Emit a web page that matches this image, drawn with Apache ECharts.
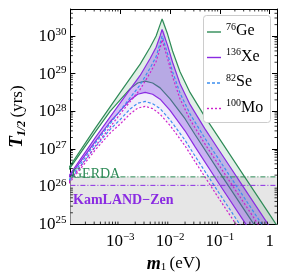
<!DOCTYPE html>
<html><head><meta charset="utf-8">
<script src="https://cdn.jsdelivr.net/npm/echarts@6/dist/echarts.min.js"></script>
<style>html,body{margin:0;padding:0;background:#fff}#c{width:281px;height:278px}</style>
</head><body><div id="c"></div>
<script>
// ---- data: log10(m1 / eV) and log10(T1/2 / yr) ----
const mUpperLog = [-4.03,-3.5,-3.0,-2.6,-2.4,-2.28,-2.2,-2.16,-2.12,-2.05,-1.95,-1.8,-1.6,-1.3,-1.0,-0.5,0.0,0.16];
const geUpperLog = [26.5,27.55,28.5,29.25,29.7,30.0,30.3,30.45,30.4,30.05,29.6,29.05,28.5,27.85,27.25,26.25,25.25,24.93];
const xeUpperLog = [26.28,27.3,28.22,28.95,29.4,29.7,30.0,30.17,30.12,29.75,29.3,28.73,28.18,27.53,26.93,25.93,24.93,24.61];
const seUpperLog = [26.17,27.15,28.02,28.7,29.15,29.45,29.8,30.0,29.95,29.53,29.05,28.48,27.93,27.28,26.68,25.68,24.68,24.36];
const moUpperLog = [26.12,27.07,27.93,28.58,29.02,29.32,29.68,29.9,29.85,29.4,28.92,28.33,27.78,27.13,26.53,25.53,24.53,24.21];
const mLowerLog = [-4.03,-3.5,-3.2,-3.0,-2.8,-2.65,-2.5,-2.35,-2.2,-2.0,-1.7,-1.5,-1.0,-0.5,-0.2];
const geLowerLog = [26.45,27.45,28.0,28.3,28.6,28.75,28.8,28.75,28.62,28.33,27.8,27.38,26.36,25.36,24.76];
const xeLowerLog = [26.24,27.2,27.72,28.01,28.3,28.45,28.5,28.45,28.32,28.02,27.48,27.06,26.04,25.04,24.44];
const seLowerLog = [26.13,27.05,27.52,27.78,28.06,28.21,28.26,28.2,28.07,27.77,27.23,26.81,25.79,24.79,24.19];
const moLowerLog = [26.08,26.97,27.42,27.66,27.93,28.08,28.13,28.07,27.92,27.62,27.08,26.66,25.64,24.64,24.04];
const gerdaLimit = 1.8e26;
const kamlandLimit = 1.07e26;
const xTickLabels = [1e-3,1e-2,1e-1,1];
const xMajorTicks = [1e-4,1e-3,1e-2,1e-1,1];
const yTickLabels = [1e25,1e26,1e27,1e28,1e29,1e30];
const legendNames = ['Ge','Xe','Se','Mo'];
const legendMass = ['76','136','82','100'];

const X_MIN = 1e-4, X_MAX = 1.4, Y_MIN = 1e25, Y_MAX = 5.2e30;
const pair = (ms, ts) => ms.map((m,i)=>[Math.pow(10,m), Math.pow(10,ts[i])]);

const C = {Ge:'#2e8b57', Xe:'#8a2be2', Se:'#3d8ef0', Mo:'#cc22cc'};
const DASH = {Ge:'solid', Xe:'solid', Se:[3,2], Mo:[2,2]};
const SERIF = 'Liberation Serif';

function band(name, up, low, fill, z){
  const poly = up.concat(low.slice().reverse());
  return {
    type:'custom', name:name+'_band', coordinateSystem:'cartesian2d', z:z, silent:true,
    data:[0],
    renderItem:(params, api)=>{
      const cs = params.coordSys;
      return {type:'polygon', shape:{points: poly.map(p=>api.coord(p))},
        style:{fill:fill},
        clipPath:{type:'rect', shape:{x:cs.x,y:cs.y,width:cs.width,height:cs.height}}};
    }
  };
}
function line(name, data, key, z){
  return {type:'line', name:name, data:data, showSymbol:false, symbol:'none', z:z, silent:true,
    lineStyle:{color:C[key], width:1.2, type: DASH[key]}, itemStyle:{color:C[key]},
    clip:true, animation:false};
}
const geU = pair(mUpperLog, geUpperLog), geL = pair(mLowerLog, geLowerLog);
const xeU = pair(mUpperLog, xeUpperLog), xeL = pair(mLowerLog, xeLowerLog);
const seU = pair(mUpperLog, seUpperLog), seL = pair(mLowerLog, seLowerLog);
const moU = pair(mUpperLog, moUpperLog), moL = pair(mLowerLog, moLowerLog);

// minor tick values
const xMinor = [], yMinor = [];
for (let e=-4;e<=0;e++) for (let k=2;k<=9;k++){ const v=k*Math.pow(10,e); if(v<X_MAX) xMinor.push(v); }
for (let e=25;e<=30;e++) for (let k=2;k<=9;k++){ const v=k*Math.pow(10,e); if(v<Y_MAX) yMinor.push(v); }

function minorTicks(vals, dir){
  return {type:'custom', coordinateSystem:'cartesian2d', z:20, silent:true, data:vals.map(v=>[v]),
    renderItem:(params, api)=>{
      const cs = params.coordSys; const v = api.value(0); const L=2.5;
      if (dir==='x'){
        const x = api.coord([v, Y_MIN])[0];
        return {type:'group', children:[
          {type:'line', shape:{x1:x,y1:cs.y+cs.height,x2:x,y2:cs.y+cs.height-L}, style:{stroke:'#000',lineWidth:0.8}},
          {type:'line', shape:{x1:x,y1:cs.y,x2:x,y2:cs.y+L}, style:{stroke:'#000',lineWidth:0.8}}]};
      } else {
        const y = api.coord([X_MIN, v])[1];
        return {type:'group', children:[
          {type:'line', shape:{x1:cs.x,y1:y,x2:cs.x+L,y2:y}, style:{stroke:'#000',lineWidth:0.8}},
          {type:'line', shape:{x1:cs.x+cs.width,y1:y,x2:cs.x+cs.width-L,y2:y}, style:{stroke:'#000',lineWidth:0.8}}]};
      }
    }};
}
function powLabel(v){
  const e = Math.round(Math.log10(v));
  if (e===0) return '{b|1}';
  return '{b|10}{s|' + (e<0 ? '\u2212'+(-e) : e) + '}';
}
const labRich = {b:{fontFamily:SERIF,fontSize:17,color:'#000',lineHeight:18,verticalAlign:'bottom'},
                 s:{fontFamily:SERIF,fontSize:11,color:'#000',lineHeight:11,verticalAlign:'top'}};

// manual legend (line samples + rich labels)
const legendGraphic = [{type:'rect', left:203, top:15, z:40, shape:{width:67,height:107,r:3},
  style:{fill:'#fff', stroke:'#cccccc', lineWidth:1}}];
legendNames.forEach((n,i)=>{
  const yc = 32 + i*25.5;
  legendGraphic.push({type:'line', z:41, shape:{x1:207,y1:yc,x2:221,y2:yc},
    style:{stroke:C[n], lineWidth:1.4, lineDash: DASH[n]==='solid'?null:DASH[n]}});
  legendGraphic.push({type:'text', z:41, x:226, y:yc-10, style:{
    text:'{s|'+legendMass[i]+'}{e|'+n+'}',
    rich:{s:{fontFamily:SERIF,fontSize:10,fill:'#000',verticalAlign:'top',lineHeight:10},
          e:{fontFamily:SERIF,fontSize:16,fill:'#000',lineHeight:17,verticalAlign:'bottom'}}}});
});

const option = {
  animation:false,
  backgroundColor:'#fff',
  grid:{left:57,right:4,top:9,bottom:50},
  xAxis:[
    {type:'log', min:X_MIN, max:X_MAX, position:'bottom',
     axisLine:{lineStyle:{color:'#000',width:1}}, splitLine:{show:false},
     axisTick:{inside:true,length:5,lineStyle:{color:'#000'},customValues:xMajorTicks},
     axisLabel:{customValues:xTickLabels, formatter:powLabel, rich:labRich, margin:8},
     name:'{i|m}{sub|1} {n|(eV)}', nameLocation:'middle', nameGap:28,
     nameTextStyle:{rich:{i:{fontFamily:SERIF,fontSize:18,fontStyle:'italic',fontWeight:'bold'},
       sub:{fontFamily:SERIF,fontSize:11,verticalAlign:'bottom',padding:[7,0,0,0]},
       n:{fontFamily:SERIF,fontSize:17}}}},
    {type:'log', min:X_MIN, max:X_MAX, position:'top',
     axisLine:{lineStyle:{color:'#000',width:1}}, splitLine:{show:false},
     axisTick:{inside:true,length:5,lineStyle:{color:'#000'},customValues:xMajorTicks},
     axisLabel:{show:false}}
  ],
  yAxis:[
    {type:'log', min:Y_MIN, max:Y_MAX, position:'left',
     axisLine:{lineStyle:{color:'#000',width:1}}, splitLine:{show:false},
     axisTick:{inside:true,length:5,lineStyle:{color:'#000'},customValues:yTickLabels},
     axisLabel:{customValues:yTickLabels, formatter:powLabel, rich:labRich, margin:4},
     name:'{i|T}{sub|1/2} {n|(yrs)}', nameLocation:'middle', nameGap:40, nameRotate:90,
     nameTextStyle:{rich:{i:{fontFamily:SERIF,fontSize:19,fontStyle:'italic',fontWeight:'bold'},
       sub:{fontFamily:SERIF,fontSize:12,fontStyle:'italic',fontWeight:'bold',verticalAlign:'bottom',padding:[8,0,0,0]},
       n:{fontFamily:SERIF,fontSize:17}}}},
    {type:'log', min:Y_MIN, max:Y_MAX, position:'right',
     axisLine:{lineStyle:{color:'#000',width:1}}, splitLine:{show:false},
     axisTick:{inside:true,length:5,lineStyle:{color:'#000'},customValues:yTickLabels},
     axisLabel:{show:false}}
  ],
  series:[
    {type:'line', name:'excl', data:[[X_MIN,Y_MIN],[X_MAX,Y_MIN]], symbol:'none', lineStyle:{width:0}, z:1, silent:true,
     markArea:{silent:true, itemStyle:{color:'#e6e6e6'}, data:[[{yAxis:Y_MIN},{yAxis:gerdaLimit}]]}},
    band('Mo', moU, moL, 'rgba(204,34,204,0.05)', 2),
    band('Se', seU, seL, 'rgba(61,142,240,0.06)', 2),
    band('Ge', geU, geL, 'rgba(46,139,87,0.14)', 3),
    line('Ge', geU, 'Ge', 4),
    line('Ge_low', geL, 'Ge', 4),
    band('Xe', xeU, xeL, 'rgba(130,70,230,0.35)', 5),
    line('Xe', xeU, 'Xe', 6),
    line('Xe_low', xeL, 'Xe', 6),
    line('Se', seU, 'Se', 7),
    line('Se_low', seL, 'Se', 7),
    line('Mo', moU, 'Mo', 7),
    line('Mo_low', moL, 'Mo', 7),
    {type:'line', name:'GERDA', data:[[X_MIN,gerdaLimit],[X_MAX,gerdaLimit]], symbol:'none', z:8, silent:true,
     lineStyle:{color:C.Ge, width:1, type:[5,2,1,2]}},
    {type:'line', name:'KamLAND', data:[[X_MIN,kamlandLimit],[X_MAX,kamlandLimit]], symbol:'none', z:8, silent:true,
     lineStyle:{color:C.Xe, width:1, type:[5,2,1,2]}},
    minorTicks(xMinor,'x'),
    minorTicks(yMinor,'y')
  ],
  graphic:[
    {type:'text', left:72, top:167, z:30, style:{text:'GERDA', font:'14px "Liberation Serif"', fill:C.Ge}},
    {type:'text', left:73, top:193, z:30, style:{text:'KamLAND\u2212Zen', font:'bold 14px "Liberation Serif"', fill:C.Xe}}
  ].concat(legendGraphic)
};
const chart = echarts.init(document.getElementById('c'));
chart.setOption(option);
</script></body></html>
